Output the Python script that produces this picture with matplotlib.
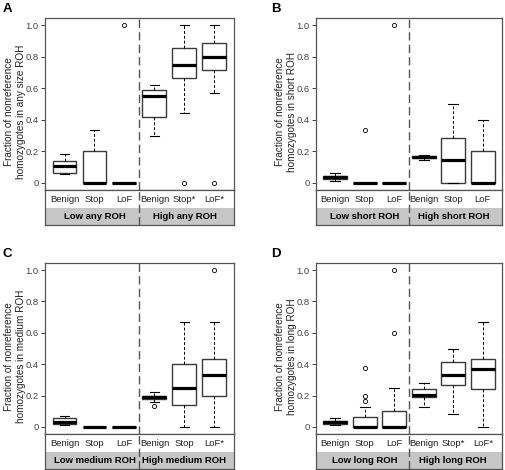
import numpy as np
import matplotlib.pyplot as plt

plt.rcParams['font.family'] = ['Liberation Sans', 'DejaVu Sans']

W, H = 506, 470

# panel A - any size ROH
a_lo = [0.055, 0, 0, 0.30, 0.444, 0.571]
a_q1 = [0.065, 0, 0, 0.42, 0.667, 0.714]
a_med = [0.11, 0, 0, 0.55, 0.75, 0.80]
a_q3 = [0.14, 0.20, 0, 0.59, 0.857, 0.889]
a_hi = [0.18, 0.333, 0, 0.62, 1.0, 1.0]
a_out = [[], [], [1.0], [], [0.0], [0.0]]
a_ticks = ['Benign', 'Stop', 'LoF', 'Benign', 'Stop*', 'LoF*']

# panel B - short ROH
b_lo = [0.015, 0, 0, 0.145, 0, 0]
b_q1 = [0.025, 0, 0, 0.155, 0, 0]
b_med = [0.035, 0, 0, 0.165, 0.143, 0]
b_q3 = [0.045, 0, 0, 0.172, 0.286, 0.2]
b_hi = [0.06, 0, 0, 0.178, 0.5, 0.4]
b_out = [[], [0.333], [1.0], [], [], []]
b_ticks = ['Benign', 'Stop', 'LoF', 'Benign', 'Stop', 'LoF']

# panel C - medium ROH
c_lo = [0.01, 0, 0, 0.16, 0, 0]
c_q1 = [0.02, 0, 0, 0.18, 0.143, 0.2]
c_med = [0.03, 0, 0, 0.19, 0.25, 0.333]
c_q3 = [0.055, 0, 0, 0.2, 0.4, 0.43]
c_hi = [0.07, 0, 0, 0.22, 0.667, 0.667]
c_out = [[], [], [], [0.135], [], [1.0]]
c_ticks = ['Benign', 'Stop', 'LoF', 'Benign', 'Stop', 'LoF*']

# panel D - long ROH
d_lo = [0.01, 0, 0, 0.125, 0.083, 0]
d_q1 = [0.018, 0, 0, 0.19, 0.267, 0.244]
d_med = [0.03, 0, 0, 0.205, 0.333, 0.367]
d_q3 = [0.04, 0.0625, 0.1, 0.245, 0.417, 0.43]
d_hi = [0.055, 0.125, 0.25, 0.28, 0.5, 0.667]
d_out = [[], [0.167, 0.2, 0.375], [0.6, 1.0], [], [], []]
d_ticks = ['Benign', 'Stop', 'LoF', 'Benign', 'Stop*', 'LoF*']


def rect(l, t, r, b):
    return [l / W, 1 - b / H, (r - l) / W, (b - t) / H]


def panel(letter, lx, l, t, r, bot, lo, q1, med, q3, hi, out, ticks, strip, ylab):
    pb = bot - 35
    ax = fig.add_axes(rect(l, t, r, pb))
    stats = [dict(whislo=lo[i], q1=q1[i], med=med[i], q3=q3[i], whishi=hi[i], fliers=out[i])
             for i in range(6)]
    ax.bxp(stats, positions=range(1, 7), widths=0.8, capwidths=0.33, patch_artist=True,
           boxprops=dict(facecolor='white', edgecolor='#3a3a3a', lw=1.0),
           medianprops=dict(color='black', lw=2.3, solid_capstyle='butt'),
           whiskerprops=dict(color='black', lw=0.7, ls=(0, (3, 2))),
           capprops=dict(color='black', lw=0.8),
           flierprops=dict(marker='o', ms=3, mfc='none', mec='black', mew=0.6))
    ax.set_xlim(0.35, 6.65)
    ax.set_ylim(-0.045, 1.045)
    ax.set_xticks([])
    ax.set_yticks([0, 0.2, 0.4, 0.6, 0.8, 1.0])
    ax.set_yticklabels(['0', '0.2', '0.4', '0.6', '0.8', '1.0'])
    ax.tick_params(axis='y', length=3, width=0.7, color='#444', labelsize=6.8,
                   labelcolor='#444', pad=1.5)
    for s in ax.spines.values():
        s.set_color('#555')
        s.set_lw(0.9)
    ax.axvline(3.5, color='#555', lw=1, ls=(0, (6, 3)))

    sx = fig.add_axes(rect(l, pb, r, bot))
    sx.set_xlim(0.35, 6.65)
    sx.set_ylim(0, 1)
    sx.axhspan(0, 17 / 35, color='#c6c6c6', lw=0)
    for i, tk in enumerate(ticks):
        sx.text(i + 1, 0.74, tk, ha='center', va='center', fontsize=6.8, color='#222')
    sx.text(2, 0.245, strip[0], ha='center', va='center', fontsize=6.8, weight='bold')
    sx.text(5, 0.245, strip[1], ha='center', va='center', fontsize=6.8, weight='bold')
    sx.axvline(3.5, color='#555', lw=1, ls=(0, (6, 3)))
    sx.set_xticks([])
    sx.set_yticks([])
    for s in sx.spines.values():
        s.set_color('#555')
        s.set_lw(0.9)

    fig.text((l - 30) / W, 1 - (t + pb) / 2 / H - 8 / H, ylab, rotation=90, ha='center',
             va='center', fontsize=7.2, linespacing=1.15, color='#222')
    fig.text(lx / W, 1 - (t - 15) / H, letter, fontsize=9.5, weight='bold', va='top')


fig = plt.figure(figsize=(W / 100, H / 100), dpi=100)

panel('A', 3, 45, 18, 234, 225, a_lo, a_q1, a_med, a_q3, a_hi, a_out, a_ticks,
      ['Low any ROH', 'High any ROH'],
      'Fraction of nonreference\nhomozygotes in any size ROH')
panel('B', 271, 316, 18, 502, 225, b_lo, b_q1, b_med, b_q3, b_hi, b_out, b_ticks,
      ['Low short ROH', 'High short ROH'],
      'Fraction of nonreference\nhomozygotes in short ROH')
panel('C', 3, 45, 263, 234, 469, c_lo, c_q1, c_med, c_q3, c_hi, c_out, c_ticks,
      ['Low medium ROH', 'High medium ROH'],
      'Fraction of nonreference\nhomozygotes in medium ROH')
panel('D', 271, 316, 263, 502, 469, d_lo, d_q1, d_med, d_q3, d_hi, d_out, d_ticks,
      ['Low long ROH', 'High long ROH'],
      'Fraction of nonreference\nhomozygotes in long ROH')

fig.savefig('out.png', dpi=100)
